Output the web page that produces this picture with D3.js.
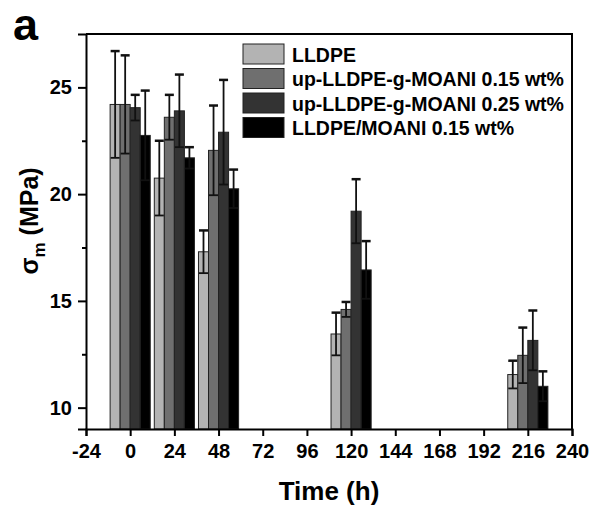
<!DOCTYPE html>
<html>
<head>
<meta charset="utf-8">
<script src="https://cdn.jsdelivr.net/npm/d3@7/dist/d3.min.js"></script>
<style>
  body { margin: 0; background: #fff; }
  text { font-family: "Liberation Sans", Arial, sans-serif; font-weight: bold; }
</style>
</head>
<body>
<svg id="chart" width="592" height="506"></svg>
<script>
// sampling times (h)
var times = [0, 24, 48, 120, 216];
var xTicks = [-24, 0, 24, 48, 72, 96, 120, 144, 168, 192, 216, 240];
var yTicks = [10, 15, 20, 25];
var yMinor = [12.5, 17.5, 22.5];

var seriesNames = ["LLDPE", "up-LLDPE-g-MOANI 0.15 wt%", "up-LLDPE-g-MOANI 0.25 wt%", "LLDPE/MOANI 0.15 wt%"];
var seriesColors = ["#b3b3b3", "#6f6f6f", "#333333", "#000000"];

// tensile strength sigma_m (MPa) and standard deviations
var lldpe     = [24.2, 20.75, 17.3, 13.45, 11.55];
var lldpeErr  = [2.5, 1.75, 1.0, 1.0, 0.65];
var up015     = [24.2, 23.6, 22.05, 14.6, 12.45];
var up015Err  = [2.3, 1.05, 2.1, 0.35, 1.3];
var up025     = [24.05, 23.9, 22.9, 19.2, 13.15];
var up025Err  = [0.6, 1.7, 2.45, 1.5, 1.4];
var blend     = [22.75, 21.7, 20.25, 16.45, 11.0];
var blendErr  = [2.1, 0.5, 0.9, 1.35, 0.7];

var values = [lldpe, up015, up025, blend];
var errors = [lldpeErr, up015Err, up025Err, blendErr];

var svg = d3.select("#chart"),
    mLeft = 86, mRight = 572, mTop = 34, mBottom = 429;

var x = d3.scaleLinear().domain([-24, 240]).range([mLeft, mRight]);
var y = d3.scaleLinear().domain([9, 27.5]).range([mBottom, mTop]);

var barW = 5.45; // hours
var bw = x(barW) - x(0);

// flat list of bars
var bars = [];
values.forEach(function(vals, s) {
  vals.forEach(function(v, i) {
    bars.push({s: s, t: times[i] + (s - 1.5) * barW, v: v, e: errors[s][i]});
  });
});

var g = svg.append("g");

g.selectAll("rect.bar")
  .data(bars)
  .enter().append("rect")
    .attr("class", "bar")
    .attr("x", function(d) { return x(d.t) - bw / 2; })
    .attr("width", bw)
    .attr("y", function(d) { return y(d.v); })
    .attr("height", function(d) { return y(9) - y(d.v); })
    .attr("fill", function(d) { return seriesColors[d.s]; })
    .attr("stroke", "#222")
    .attr("stroke-width", 1);

// error bars
var eb = g.selectAll("g.err")
  .data(bars)
  .enter().append("g")
    .attr("class", "err")
    .attr("stroke", "#111")
    .attr("stroke-width", 1.8);

eb.append("line")
  .attr("x1", function(d) { return x(d.t); })
  .attr("x2", function(d) { return x(d.t); })
  .attr("y1", function(d) { return y(d.v - d.e); })
  .attr("y2", function(d) { return y(d.v + d.e); });
eb.append("line")
  .attr("x1", function(d) { return x(d.t) - 4.5; })
  .attr("x2", function(d) { return x(d.t) + 4.5; })
  .attr("y1", function(d) { return y(d.v + d.e); })
  .attr("y2", function(d) { return y(d.v + d.e); })
  .attr("stroke-width", 2.5);
eb.append("line")
  .attr("x1", function(d) { return x(d.t) - 4.5; })
  .attr("x2", function(d) { return x(d.t) + 4.5; })
  .attr("y1", function(d) { return y(d.v - d.e); })
  .attr("y2", function(d) { return y(d.v - d.e); });

// frame
svg.append("path")
  .attr("d", "M" + mLeft + "," + mTop + "H" + mRight + "V" + mBottom)
  .attr("fill", "none")
  .attr("stroke", "#000")
  .attr("stroke-width", 2);

// axes
var fmt = function(d) { return String(d); };
svg.append("g")
  .attr("transform", "translate(0," + mBottom + ")")
  .call(d3.axisBottom(x).tickValues(xTicks).tickSize(7).tickPadding(8).tickFormat(fmt));
svg.append("g")
  .attr("transform", "translate(" + mLeft + ",0)")
  .call(d3.axisLeft(y).tickValues(yTicks).tickSize(8).tickPadding(6).tickFormat(fmt));
svg.append("g")
  .attr("transform", "translate(" + mLeft + ",0)")
  .call(d3.axisLeft(y).tickValues(yMinor).tickSize(4).tickFormat(""))
  .select(".domain").remove();

svg.selectAll(".domain").attr("stroke-width", 2).attr("stroke", "#000");
svg.selectAll(".tick line").attr("stroke-width", 2).attr("stroke", "#000");
svg.selectAll(".tick text")
  .attr("fill", "#000")
  .style("font-size", "20px")
  .style("font-family", "Liberation Sans, Arial, sans-serif")
  .style("font-weight", "bold");

// axis titles
svg.append("text")
  .attr("x", (mLeft + mRight) / 2)
  .attr("y", 500)
  .attr("text-anchor", "middle")
  .style("font-size", "26px")
  .text("Time (h)");

var yl = svg.append("text")
  .attr("transform", "translate(38,221) rotate(-90)")
  .attr("text-anchor", "middle")
  .style("font-size", "25px");
yl.append("tspan").text("\u03c3");
yl.append("tspan").attr("dy", 7).style("font-size", "17px").text("m");
yl.append("tspan").attr("dy", -7).text(" (MPa)");

// panel letter
svg.append("text")
  .attr("x", 13)
  .attr("y", 40)
  .style("font-size", "45px")
  .text("a");

// legend
var leg = svg.append("g").selectAll("g")
  .data(seriesNames)
  .enter().append("g")
    .attr("transform", function(d, i) { return "translate(243," + (44 + i * 24.5) + ")"; });
leg.append("rect")
  .attr("width", 41)
  .attr("height", 20)
  .attr("fill", function(d, i) { return seriesColors[i]; })
  .attr("stroke", "#222")
  .attr("stroke-width", 1);
leg.append("text")
  .attr("x", 49)
  .attr("y", 17.5)
  .style("font-size", "19.5px")
  .text(function(d) { return d; });
</script>
</body>
</html>
